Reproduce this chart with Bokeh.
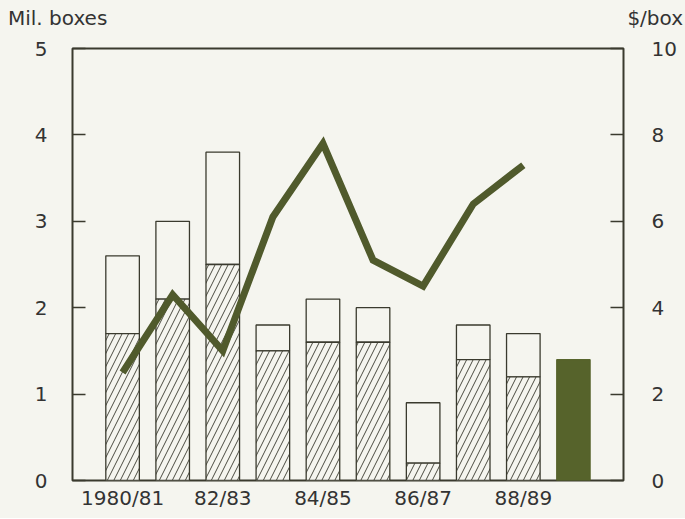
from bokeh.plotting import figure
from bokeh.layouts import column
from bokeh.models import Range1d, LinearAxis, FixedTicker, ColumnDataSource, Div
from bokeh.embed import file_html
from bokeh.resources import INLINE

# ---- data ----
seasons = ["1980/81", "81/82", "82/83", "83/84", "84/85", "85/86", "86/87", "87/88", "88/89", "89/90"]
labeled_seasons = ["1980/81", "82/83", "84/85", "86/87", "88/89"]
hatched = [1.7, 2.1, 2.5, 1.5, 1.6, 1.6, 0.2, 1.4, 1.2]      # Mil. boxes (hatched part)
total = [2.6, 3.0, 3.8, 1.8, 2.1, 2.0, 0.9, 1.8, 1.7]        # Mil. boxes (bar total)
forecast_season = ["89/90"]
forecast = [1.4]                                              # Mil. boxes (solid bar)
price = [2.5, 4.3, 3.0, 6.1, 7.8, 5.1, 4.5, 6.4, 7.3]        # $/box
left_ticks = [0, 1, 2, 3, 4, 5]
right_ticks = [0, 2, 4, 6, 8, 10]
left_unit = "Mil. boxes"
right_unit = "$/box"

# ---- styles ----
BG = "#f5f5ef"
DARK = "#3a3a2e"
OLIVE = "#56632b"
LINE = "#505a2c"
TXT = "#333333"
FONT = "DejaVu Sans"
FS = "20px"

pos = {s: i + 1 for i, s in enumerate(seasons)}
hx = [pos[s] for s in seasons[:len(hatched)]]
fx = [pos[s] for s in forecast_season]

# ---- header with unit labels ----
hdr = Div(text=(f'<div style="display:flex;justify-content:space-between;align-items:center;'
                f'width:685px;height:36px;box-sizing:border-box;padding:0 2px 0 8px;'
                f'font-family:\'{FONT}\';font-size:{FS};color:{TXT};background:{BG};">'
                f'<span>{left_unit}</span><span>{right_unit}</span></div>'),
          width=685, height=36, disable_math=True, margin=0,
          styles={"background-color": BG})

# ---- main chart ----
p = figure(width=685, height=482, output_backend="svg", toolbar_location=None,
           x_range=Range1d(0, len(seasons) + 1), y_range=Range1d(0, 5),
           min_border_left=72, min_border_right=62, min_border_top=12, min_border_bottom=38)
p.extra_y_ranges = {"price": Range1d(0, 10)}

p.background_fill_color = BG
p.border_fill_color = BG
p.outline_line_color = DARK
p.outline_line_width = 2
p.xgrid.visible = False
p.ygrid.visible = False

# bars
src_h = ColumnDataSource(dict(x=hx, top=hatched, total=total))
p.vbar(x="x", top="total", bottom="top", width=0.67, source=src_h,
       fill_color=BG, line_color=DARK, line_width=1.3)
p.vbar(x="x", top="top", bottom=0, width=0.67, source=src_h,
       fill_color=BG, line_color=DARK, line_width=1.3,
       hatch_pattern="/", hatch_color="#4a4a40", hatch_scale=13, hatch_weight=1)
p.vbar(x=fx, top=forecast, bottom=0, width=0.67,
       fill_color=OLIVE, line_color=OLIVE, line_width=1)

# price line
p.line(x=hx, y=price, y_range_name="price", line_color=LINE, line_width=7, line_join="miter")

# axes
ax = p.xaxis[0]
ax.ticker = FixedTicker(ticks=[pos[s] for s in labeled_seasons])
ax.major_label_overrides = {pos[s]: s for s in labeled_seasons}
ax.axis_line_color = None
ax.major_tick_line_color = None
ax.major_tick_in = 0
ax.major_tick_out = 0
ax.minor_tick_line_color = None
ax.major_label_standoff = 5

ay = p.yaxis[0]
ay.ticker = FixedTicker(ticks=left_ticks)
ay.axis_line_color = None
ay.major_tick_in = 13
ay.major_tick_out = 0
ay.major_tick_line_color = DARK
ay.major_tick_line_width = 1.5
ay.minor_tick_line_color = None
ay.major_label_standoff = 25

ar = LinearAxis(y_range_name="price", ticker=FixedTicker(ticks=right_ticks))
ar.axis_line_color = None
ar.major_tick_in = 13
ar.major_tick_out = 0
ar.major_tick_line_color = DARK
ar.major_tick_line_width = 1.5
ar.minor_tick_line_color = None
ar.major_label_standoff = 28
p.add_layout(ar, "right")

for a in (ax, ay, ar):
    a.major_label_text_font = FONT
    a.major_label_text_font_size = FS
    a.major_label_text_color = TXT

layout = column(hdr, p, spacing=0, styles={"background-color": BG})
open("out.html", "w").write(file_html(layout, INLINE))
